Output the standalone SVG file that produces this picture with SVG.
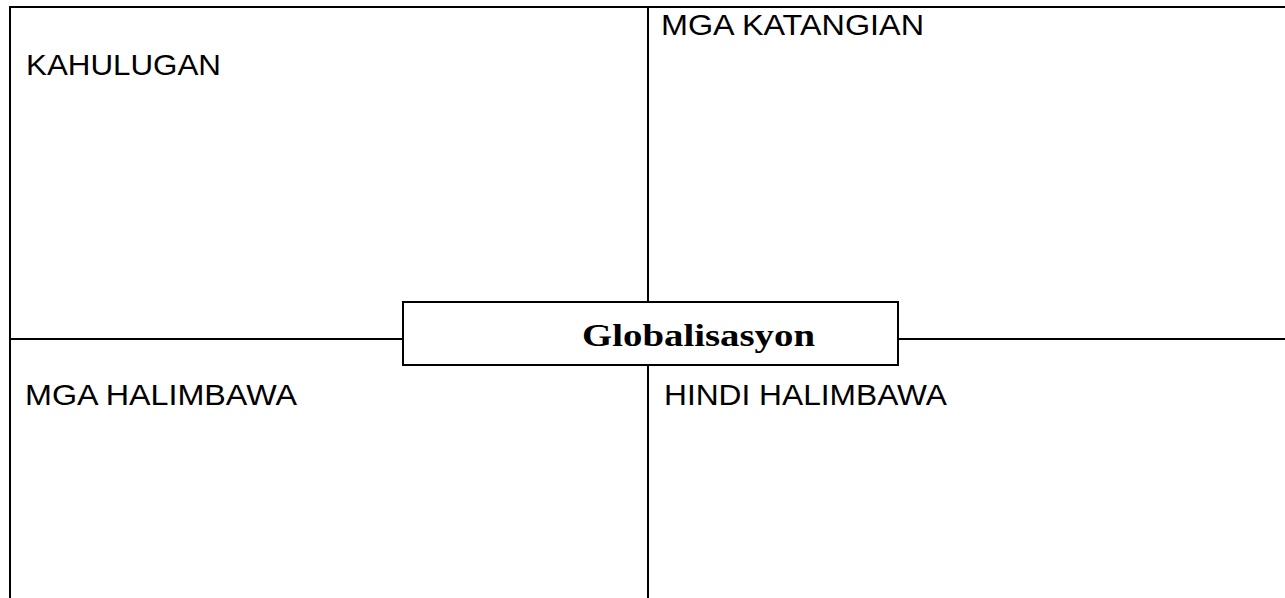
<svg xmlns="http://www.w3.org/2000/svg" width="1285" height="598" viewBox="0 0 1285 598">
<style>
.ln{stroke:#000;stroke-width:2;fill:none}
.lbl{font-family:"Liberation Sans",Arial,sans-serif;font-size:30px;fill:#000}
.ttl{font-family:"Liberation Serif","Times New Roman",serif;font-size:32px;font-weight:bold;fill:#000}
</style>
<rect width="1285" height="598" fill="#fff"/>
<g id="connectors">
<path class="ln" d="M9 7 H1285"/>
<path class="ln" d="M10 6 V598"/>
<path class="ln" d="M648 7 V302"/>
<path class="ln" d="M648 365 V598"/>
<path class="ln" d="M10 339 H403"/>
<path class="ln" d="M898 339 H1285"/>
</g>
<g id="kahulugan"><text class="lbl" x="26" y="75" textLength="195" lengthAdjust="spacingAndGlyphs">KAHULUGAN</text></g>
<g id="katangian"><text class="lbl" x="661" y="35" textLength="263" lengthAdjust="spacingAndGlyphs">MGA KATANGIAN</text></g>
<g id="halimbawa"><text class="lbl" x="25" y="405" textLength="272" lengthAdjust="spacingAndGlyphs">MGA HALIMBAWA</text></g>
<g id="hindi-halimbawa"><text class="lbl" x="664" y="405" textLength="283" lengthAdjust="spacingAndGlyphs">HINDI HALIMBAWA</text></g>
<g id="globalisasyon">
<rect class="ln" x="403" y="302" width="495" height="63" fill="#fff"/>
<text class="ttl" x="582" y="346" textLength="233" lengthAdjust="spacingAndGlyphs">Globalisasyon</text>
</g>
</svg>
